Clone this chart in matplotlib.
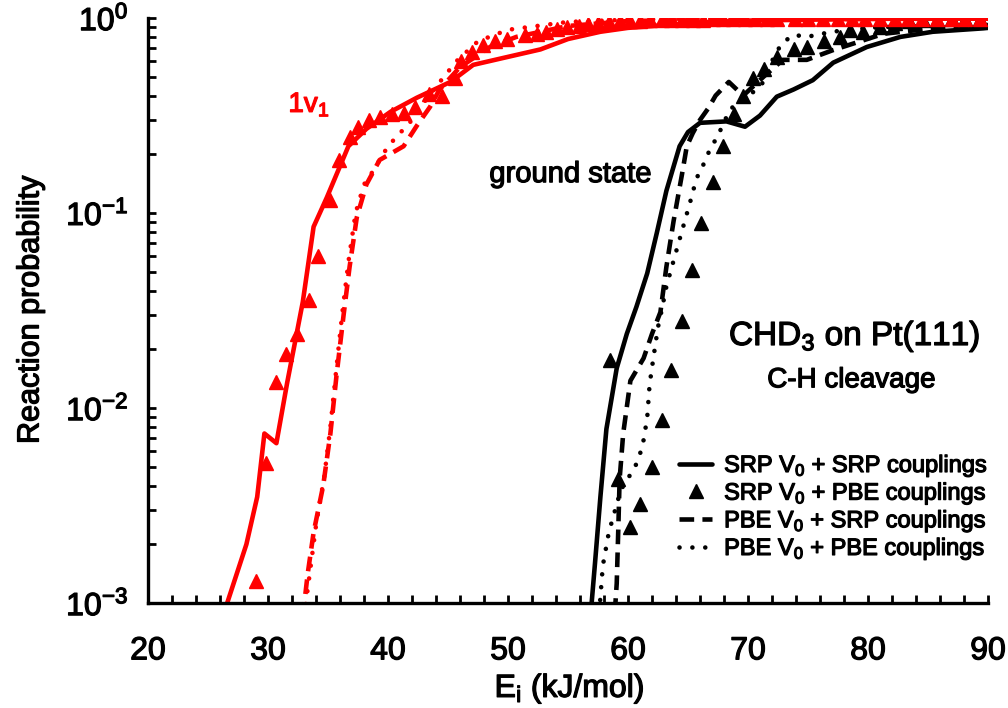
import numpy as np
import matplotlib
matplotlib.use("Agg")
import matplotlib.pyplot as plt
import matplotlib.patheffects as pe
from matplotlib.ticker import MultipleLocator, LogLocator, NullFormatter

plt.rcParams['font.family'] = ['Liberation Sans', 'DejaVu Sans']
plt.rcParams['mathtext.fontset'] = 'custom'
plt.rcParams['mathtext.rm'] = 'Liberation Sans'
plt.rcParams['mathtext.it'] = 'Liberation Sans:italic'
plt.rcParams['mathtext.bf'] = 'Liberation Sans:bold'
plt.rcParams['axes.unicode_minus'] = False

# 1v1 (red)
v1_srp_srp_x = [26.4, 26.6, 28.2, 29.1, 29.7, 30.7, 31.6, 32.9, 33.8, 34.9, 36.7, 38.2, 40.2,
                42.4, 45.2, 47.1, 49.9, 52.7, 55.0, 57.7, 60.0, 63.2, 67.0, 70.0, 80.0, 90.0]
v1_srp_srp_p = [0.0009, 0.0010, 0.0020, 0.0035, 0.0074, 0.0066, 0.0135, 0.035, 0.085, 0.12,
                0.22, 0.27, 0.33, 0.39, 0.47, 0.575, 0.63, 0.69, 0.78, 0.85, 0.89, 0.92,
                0.955, 0.97, 0.99, 0.993]

v1_srp_pbe_x = [29.0, 29.8, 30.7, 31.5, 32.4, 33.4, 34.2, 35.2, 35.9, 36.8, 37.5, 38.4, 39.3,
                40.3, 41.3, 42.25, 43.4, 44.5, 45.6, 46.1, 47.0, 47.9, 48.9, 49.9, 51.4,
                52.4, 53.2, 54.1, 54.9, 55.9, 56.7, 57.5, 58.4, 59.3, 60.2, 61.0, 61.8,
                62.8, 63.6, 64.5, 65.4, 66.25, 67.1, 67.9, 68.75, 69.75, 70.6, 71.6, 72.4,
                73.9, 75.0, 76.25, 77.5, 78.7, 79.75, 81.0, 82.25, 83.3, 84.5, 85.75, 87.0,
                88.1, 89.3]
v1_srp_pbe_p = [0.0013, 0.0052, 0.0136, 0.019, 0.024, 0.036, 0.060, 0.117, 0.187, 0.245,
                0.277, 0.30, 0.31, 0.32, 0.325, 0.35, 0.41, 0.40, 0.49, 0.60, 0.67, 0.73,
                0.76, 0.78, 0.82, 0.83, 0.85, 0.88, 0.90, 0.91, 0.93, 0.94, 0.95, 0.96,
                0.965, 0.97, 0.975, 0.98, 0.98, 0.98, 0.98, 0.98, 0.985, 0.985, 0.985,
                0.985, 0.985, 0.985, 0.985, 0.985, 0.985, 0.985, 0.985, 0.985, 0.985,
                0.985, 0.985, 0.985, 0.985, 0.985, 0.985, 0.985, 0.985]

v1_pbe_srp_x = [32.9, 33.3, 33.8, 34.6, 35.2, 35.7, 36.3, 36.8, 37.4, 38.2, 39.3, 41.3, 42.4,
                43.5, 44.3, 46.0, 48.5, 50.7, 55.0, 60.0, 70.0, 90.0]
v1_pbe_srp_p = [0.00085, 0.0014, 0.0023, 0.0040, 0.0074, 0.0145, 0.030, 0.053, 0.095, 0.14,
                0.187, 0.22, 0.28, 0.35, 0.43, 0.56, 0.71, 0.80, 0.91, 0.965, 0.985, 0.993]

v1_pbe_pbe_x = [33.0, 33.4, 34.0, 34.7, 35.2, 35.7, 36.2, 36.7, 37.3, 38.0, 38.5, 40.0, 42.0,
                43.4, 44.2, 45.7, 47.5, 50.0, 55.0, 60.0, 70.0, 90.0]
v1_pbe_pbe_p = [0.00085, 0.0013, 0.0025, 0.0045, 0.0080, 0.016, 0.031, 0.056, 0.10, 0.14,
                0.155, 0.22, 0.30, 0.40, 0.46, 0.60, 0.76, 0.87, 0.955, 0.98, 0.99, 0.995]

# ground state (black)
gs_srp_srp_x = [56.9, 57.25, 57.7, 58.2, 59.06, 59.9, 60.7, 61.6, 62.4, 63.2, 64.3, 65.0, 66.0,
                68.2, 69.75, 71.0, 72.4, 73.8, 75.4, 77.1, 79.9, 82.7, 85.4, 89.6, 90.0]
gs_srp_srp_p = [0.00089, 0.0016, 0.0035, 0.0078, 0.016, 0.024, 0.033, 0.049, 0.079, 0.13,
                0.22, 0.26, 0.29, 0.295, 0.277, 0.316, 0.395, 0.43, 0.48, 0.59, 0.71, 0.80,
                0.85, 0.885, 0.89]

gs_srp_pbe_x = [58.5, 59.2, 60.2, 61.0, 62.0, 62.8, 63.6, 64.5, 65.3, 66.1, 67.1, 67.9, 68.8,
                69.6, 70.4, 71.3, 72.4, 73.8, 74.9, 76.3, 77.7, 78.5, 79.6, 81.0, 82.25,
                83.4, 84.6, 85.75, 87.0, 88.1, 89.3]
gs_srp_pbe_p = [0.0176, 0.0043, 0.00245, 0.0032, 0.0050, 0.0087, 0.0157, 0.028, 0.051, 0.089,
                0.145, 0.22, 0.32, 0.40, 0.49, 0.55, 0.63, 0.69, 0.71, 0.76, 0.80, 0.87,
                0.85, 0.90, 0.94, 0.96, 0.975, 0.98, 0.985, 0.985, 0.985]

gs_pbe_srp_x = [58.9, 59.06, 59.2, 59.3, 59.6, 60.2, 61.3, 62.0, 62.7, 63.2, 63.8, 64.5, 64.9,
                65.4, 66.0, 66.7, 67.3, 68.4, 69.6, 71.3, 72.9, 74.9, 77.1, 81.3, 85.4, 90.0]
gs_pbe_srp_p = [0.00089, 0.00126, 0.0025, 0.0043, 0.0074, 0.0138, 0.018, 0.024, 0.031, 0.053,
                0.091, 0.158, 0.22, 0.257, 0.30, 0.345, 0.40, 0.47, 0.40, 0.50, 0.61, 0.61,
                0.685, 0.83, 0.885, 0.92]

gs_pbe_pbe_x = [57.6, 57.9, 58.4, 59.4, 60.6, 61.2, 61.6, 61.8, 62.1, 62.5, 62.8, 63.2, 63.9,
                64.5, 65.2, 65.7, 66.3, 66.8, 67.5, 68.5, 69.5, 70.5, 71.3, 72.1, 72.8, 73.8,
                74.9, 77.0, 80.0, 85.0, 90.0]
gs_pbe_pbe_p = [0.00089, 0.00155, 0.0023, 0.0038, 0.0050, 0.0063, 0.0089, 0.0132, 0.0178,
                0.026, 0.0316, 0.042, 0.060, 0.081, 0.115, 0.15, 0.178, 0.21, 0.25, 0.34,
                0.38, 0.42, 0.47, 0.62, 0.74, 0.82, 0.80, 0.85, 0.89, 0.92, 0.945]

labels = ["SRP V$_\\mathregular{0}$ + SRP couplings",
          "SRP V$_\\mathregular{0}$ + PBE couplings",
          "PBE V$_\\mathregular{0}$ + SRP couplings",
          "PBE V$_\\mathregular{0}$ + PBE couplings"]

lw = 3.3
dash = (3.2, 1.8)
dot = (0.01, 2.8)


def heavy(color='black'):
    # the original lettering is a bit heavier than Liberation Sans regular
    return [pe.withStroke(linewidth=0.9, foreground=color)]


fig = plt.figure(figsize=(10.08, 7.08), dpi=100)
ax = fig.add_axes([148 / 1008, 1 - 603 / 708, 840 / 1008, 585 / 708])

# black: ground state
h1, = ax.plot(gs_srp_srp_x, gs_srp_srp_p, color='black', lw=lw, solid_capstyle='round',
              label=labels[0])
h2, = ax.plot(gs_srp_pbe_x, gs_srp_pbe_p, ls='none', marker='^', ms=9.5, color='black',
              label=labels[1])
h3, = ax.plot(gs_pbe_srp_x, gs_pbe_srp_p, color='black', lw=lw, ls=(0, dash),
              dash_capstyle='butt', label=labels[2])
h4, = ax.plot(gs_pbe_pbe_x, gs_pbe_pbe_p, color='black', lw=lw, ls=(0, dot),
              dash_capstyle='round', label=labels[3])

# red: 1v1
red = '#ff0000'
ax.plot(v1_srp_srp_x, v1_srp_srp_p, color=red, lw=lw, solid_capstyle='round')
ax.plot(v1_pbe_srp_x, v1_pbe_srp_p, color=red, lw=lw, ls=(0, dash), dash_capstyle='butt')
ax.plot(v1_pbe_pbe_x, v1_pbe_pbe_p, color=red, lw=lw, ls=(0, dot), dash_capstyle='round')
ax.plot(v1_srp_pbe_x, v1_srp_pbe_p, ls='none', marker='^', ms=9.5, color=red)

ax.set_yscale('log')
ax.set_xlim(20, 90)
ax.set_ylim(1e-3, 1)

ax.xaxis.set_major_locator(MultipleLocator(10))
ax.xaxis.set_minor_locator(MultipleLocator(2))
ax.yaxis.set_major_locator(LogLocator(base=10))
ax.yaxis.set_minor_locator(LogLocator(base=10, subs=np.arange(2, 10)))
ax.yaxis.set_minor_formatter(NullFormatter())

for s in ['top', 'right']:
    ax.spines[s].set_visible(False)
for s in ['left', 'bottom']:
    ax.spines[s].set_linewidth(2.4)

ax.tick_params(axis='both', which='both', direction='in', width=2.0, length=5.5)
ax.tick_params(axis='x', which='major', labelsize=23, pad=24)
ax.tick_params(axis='y', which='major', labelsize=23, pad=14)

xl = ax.set_xlabel("E$_\\mathregular{i}$ (kJ/mol)", fontsize=23)
ax.xaxis.set_label_coords(0.502, -0.118)
yl = ax.set_ylabel("Reaction probability", fontsize=22)
ax.yaxis.set_label_coords(-0.122, 0.5)
xl.set_path_effects(heavy())
yl.set_path_effects(heavy())

ax.text(31.7, 0.33, "1v$_\\mathregular{1}$", color=red, fontsize=20, ha='left', va='baseline',
        path_effects=heavy(red))
ax.text(55.2, 0.144, "ground state", fontsize=21, ha='center', va='baseline',
        path_effects=heavy())
ax.text(78.9, 0.021, "CHD$_\\mathregular{3}$ on Pt(111)", fontsize=24, ha='center',
        va='baseline', path_effects=heavy())
ax.text(78.6, 0.01277, "C-H cleavage", fontsize=20, ha='center', va='baseline',
        path_effects=heavy())

leg = ax.legend(handles=[h1, h2, h3, h4], loc='lower right', bbox_to_anchor=(1.0, 0.07),
                frameon=False, fontsize=17, handlelength=1.4, handletextpad=0.5,
                labelspacing=0.07, borderaxespad=0, borderpad=0)
for t in leg.get_texts():
    t.set_path_effects(heavy())

fig.canvas.draw()
for t in ax.get_xticklabels() + ax.get_yticklabels():
    t.set_path_effects(heavy())

fig.savefig("out.png", dpi=100)
